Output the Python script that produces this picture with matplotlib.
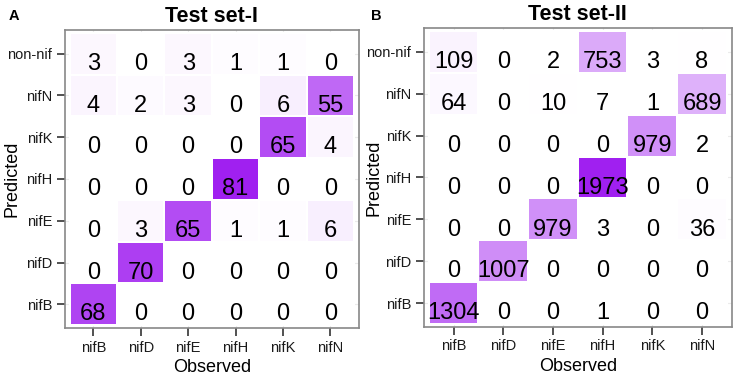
import numpy as np
import matplotlib
matplotlib.use("Agg")
import matplotlib.pyplot as plt
from matplotlib.colors import LinearSegmentedColormap

plt.rcParams['font.family'] = ['Liberation Sans', 'DejaVu Sans']

# categories
observed = ['nifB', 'nifD', 'nifE', 'nifH', 'nifK', 'nifN']
predicted = ['nifB', 'nifD', 'nifE', 'nifH', 'nifK', 'nifN', 'non-nif']  # bottom -> top

# counts, rows listed bottom (nifB) -> top (non-nif)
set1 = [
    [68, 0, 0, 0, 0, 0],
    [0, 70, 0, 0, 0, 0],
    [0, 3, 65, 1, 1, 6],
    [0, 0, 0, 81, 0, 0],
    [0, 0, 0, 0, 65, 4],
    [4, 2, 3, 0, 6, 55],
    [3, 0, 3, 1, 1, 0],
]
set2 = [
    [1304, 0, 0, 1, 0, 0],
    [0, 1007, 0, 0, 0, 0],
    [0, 0, 979, 3, 0, 36],
    [0, 0, 0, 1973, 0, 0],
    [0, 0, 0, 0, 979, 2],
    [64, 0, 10, 7, 1, 689],
    [109, 0, 2, 753, 3, 8],
]
titles = ['Test set-I', 'Test set-II']
panel_tags = ['A', 'B']

cmap = LinearSegmentedColormap.from_list('wp', ['#FFFFFF', '#A020F0'])

fig = plt.figure(figsize=(7.37, 3.78), dpi=100)
rects = [[0.088, 0.132, 0.399, 0.789], [0.575, 0.135, 0.418, 0.791]]
tag_x = [0.012, 0.503]

for k, mat in enumerate([set1, set2]):
    m = np.array(mat)
    ax = fig.add_axes(rects[k])
    nx, ny = len(observed), len(predicted)
    xe = np.arange(nx + 1) + 0.5
    ye = np.arange(ny + 1) + 0.5
    ax.pcolormesh(xe, ye, m, cmap=cmap, vmin=0, vmax=m.max(),
                  edgecolors='white', linewidth=1.2, zorder=2)
    for i in range(ny):
        for j in range(nx):
            ax.text(j + 1, i + 1 + 0.02, str(m[i, j]), ha='center', va='top',
                    fontsize=17, color='black', zorder=3)
    ax.set_xlim(0.4, nx + 0.6)
    ax.set_ylim(0.43, ny + 0.57)
    ax.set_xticks(np.arange(1, nx + 1))
    ax.set_xticklabels(observed, fontsize=10.5, color='#1A1A1A')
    ax.set_yticks(np.arange(1, ny + 1))
    ax.set_yticklabels(predicted, fontsize=10.5, color='#1A1A1A')
    ax.tick_params(length=6, width=1.2, color='#333333', pad=3)
    ax.grid(True, color='#EBEBEB', linewidth=0.8, zorder=0)
    ax.set_axisbelow(True)
    for s in ax.spines.values():
        s.set_color('#888888')
        s.set_linewidth(1.2)
    ax.set_xlabel('Observed', fontsize=13, labelpad=3)
    ax.set_title(titles[k], fontsize=15.5, fontweight='bold', pad=6)
    fig.text(tag_x[k], 0.975, panel_tags[k], fontsize=10.5, fontweight='bold',
             ha='left', va='top')

# y axis titles placed by hand so they sit where the reference puts them
fig.text(0.016, 0.527, 'Predicted', rotation=90, fontsize=13,
         ha='center', va='center')
fig.text(0.507, 0.530, 'Predicted', rotation=90, fontsize=13,
         ha='center', va='center')

fig.savefig('out.png', dpi=100)
